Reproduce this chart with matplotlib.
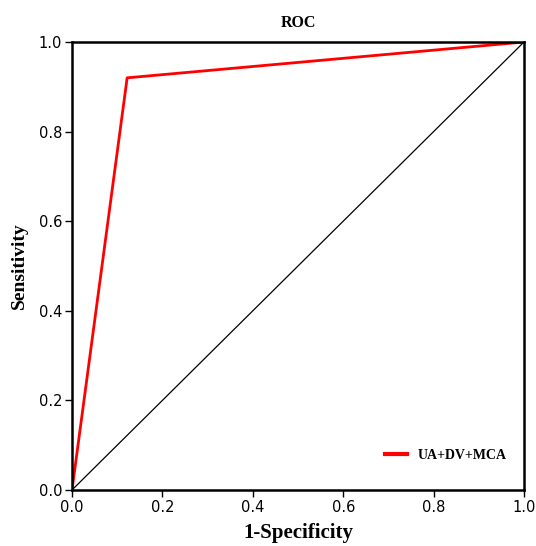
import matplotlib
matplotlib.use('Agg')
import matplotlib.pyplot as plt

# data
fpr = [0.0, 0.122, 1.0]
tpr = [0.0, 0.92, 1.0]
ref = [0.0, 1.0]
label = 'UA+DV+MCA'
ticks = [0.0, 0.2, 0.4, 0.6, 0.8, 1.0]

fig = plt.figure(figsize=(5.36, 5.46), dpi=100)
ax = fig.add_axes([72 / 536, 1 - 490 / 546, 452 / 536, 448 / 546])

ax.plot(ref, ref, color='black', lw=0.9)
ax.plot(fpr, tpr, color='#ff0000', lw=2, label=label)

ax.set_xlim(0, 1)
ax.set_ylim(0, 1)
ax.set_xticks(ticks)
ax.set_yticks(ticks)
ax.set_xticklabels([f'{t:.1f}' for t in ticks])
ax.set_yticklabels([f'{t:.1f}' for t in ticks])
ax.tick_params(direction='out', length=5, width=1, labelsize=10.5, pad=2)
for sp in ax.spines.values():
    sp.set_linewidth(1.8)

serif = {'family': 'Liberation Serif', 'weight': 'bold'}
ax.set_title('ROC', fontsize=11.5, pad=11, **serif)
ax.set_xlabel('1-Specificity', fontsize=15, labelpad=6, **serif)
ax.set_ylabel('Sensitivity', fontsize=14, labelpad=8, **serif)

leg = ax.legend(loc='lower right', frameon=False, handlelength=1.6,
                prop={'family': 'Liberation Serif', 'weight': 'bold', 'size': 10},
                bbox_to_anchor=(0.99, 0.035))
for ln in leg.get_lines():
    ln.set_linewidth(3)

fig.savefig('out.png', dpi=100)
